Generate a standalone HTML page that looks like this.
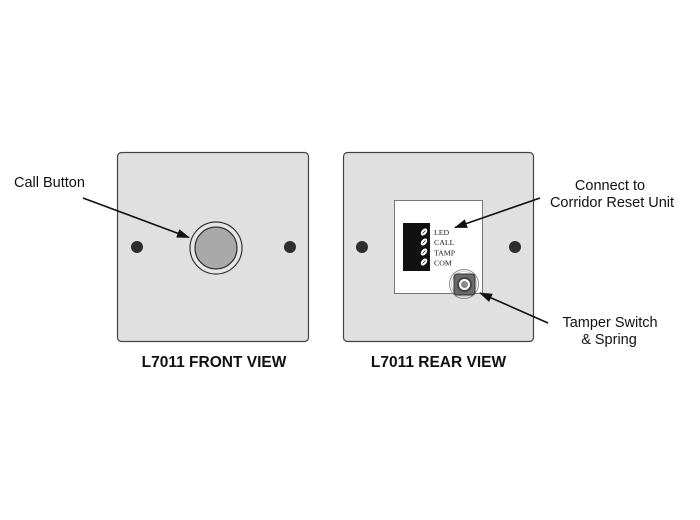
<!DOCTYPE html>
<html>
<head>
<meta charset="utf-8">
<style>
html,body{margin:0;padding:0;background:#fff;}
svg{display:block;}
text{font-family:"Liberation Sans",Arial,sans-serif;fill:#111;}
.s{font-family:"Liberation Serif","Times New Roman",serif;font-size:7.8px;fill:#222;}
</style>
</head>
<body>
<svg width="700" height="520" viewBox="0 0 700 520" xmlns="http://www.w3.org/2000/svg">
  <defs>
    <marker id="ah" markerWidth="13" markerHeight="9" refX="12" refY="4.5" orient="auto" markerUnits="userSpaceOnUse">
      <path d="M0,0 L13,4.5 L0,9 Z" fill="#111"/>
    </marker>
  </defs>

  <!-- Front panel -->
  <rect x="117.5" y="152.5" width="191" height="189" rx="4" ry="4" fill="#e0e0e0" stroke="#444" stroke-width="1.2"/>
  <circle cx="137" cy="247" r="6" fill="#2e2e2e"/>
  <circle cx="290" cy="247" r="6" fill="#2e2e2e"/>
  <circle cx="216" cy="248" r="26" fill="#e6e6e6" stroke="#333" stroke-width="1.2"/>
  <circle cx="216" cy="248" r="21" fill="#a9a9a9" stroke="#333" stroke-width="1.3"/>

  <!-- Rear panel -->
  <rect x="343.5" y="152.5" width="190" height="189" rx="4" ry="4" fill="#e0e0e0" stroke="#444" stroke-width="1.2"/>
  <circle cx="362" cy="247" r="6" fill="#2e2e2e"/>
  <circle cx="515" cy="247" r="6" fill="#2e2e2e"/>
  <rect x="394.5" y="200.5" width="88" height="93" fill="#fff" stroke="#777" stroke-width="1"/>
  <!-- terminal block -->
  <rect x="403" y="223" width="27" height="48" fill="#111"/>
  <g fill="#fff">
    <ellipse cx="424" cy="232" rx="2.6" ry="4" transform="rotate(40 424 232)"/>
    <ellipse cx="424" cy="242" rx="2.6" ry="4" transform="rotate(40 424 242)"/>
    <ellipse cx="424" cy="252" rx="2.6" ry="4" transform="rotate(40 424 252)"/>
    <ellipse cx="424" cy="262" rx="2.6" ry="4" transform="rotate(40 424 262)"/>
  </g>
  <g stroke="#111" stroke-width="0.7">
    <line x1="422.5" y1="233.5" x2="425.5" y2="230.5"/>
    <line x1="422.5" y1="243.5" x2="425.5" y2="240.5"/>
    <line x1="422.5" y1="253.5" x2="425.5" y2="250.5"/>
    <line x1="422.5" y1="263.5" x2="425.5" y2="260.5"/>
  </g>
  <text class="s" x="434" y="235">LED</text>
  <text class="s" x="434" y="245">CALL</text>
  <text class="s" x="434" y="255.5">TAMP</text>
  <text class="s" x="434" y="265.5">COM</text>
  <!-- tamper switch -->
  <circle cx="464" cy="284" r="14.5" fill="none" stroke="#888" stroke-width="0.9"/>
  <circle cx="464" cy="284" r="12.5" fill="none" stroke="#aaa" stroke-width="0.6"/>
  <rect x="454" y="274" width="21" height="21" rx="3" ry="3" fill="#6a6a6a" stroke="#333" stroke-width="1"/>
  <circle cx="464.5" cy="284.5" r="7.5" fill="#444"/>
  <circle cx="464.5" cy="284.5" r="5.5" fill="#fff"/>
  <circle cx="464.5" cy="284.5" r="3.5" fill="#8a8a8a"/>

  <!-- arrows -->
  <line x1="83" y1="198" x2="189" y2="237.5" stroke="#111" stroke-width="1.6" marker-end="url(#ah)"/>
  <line x1="540" y1="198" x2="455" y2="227.5" stroke="#111" stroke-width="1.6" marker-end="url(#ah)"/>
  <line x1="548" y1="323" x2="480" y2="293" stroke="#111" stroke-width="1.6" marker-end="url(#ah)"/>

  <!-- labels -->
  <text x="14" y="187" font-size="14.5">Call Button</text>
  <text x="610" y="190" font-size="14.5" text-anchor="middle">Connect to</text>
  <text x="612" y="207" font-size="14.5" text-anchor="middle">Corridor Reset Unit</text>
  <text x="610" y="327" font-size="14.5" text-anchor="middle">Tamper Switch</text>
  <text x="609" y="344" font-size="14.5" text-anchor="middle">&amp; Spring</text>
  <text x="214" y="367" font-size="15.5" font-weight="bold" text-anchor="middle">L7011 FRONT VIEW</text>
  <text x="438.5" y="367" font-size="15.5" font-weight="bold" text-anchor="middle">L7011 REAR VIEW</text>
</svg>
</body>
</html>
